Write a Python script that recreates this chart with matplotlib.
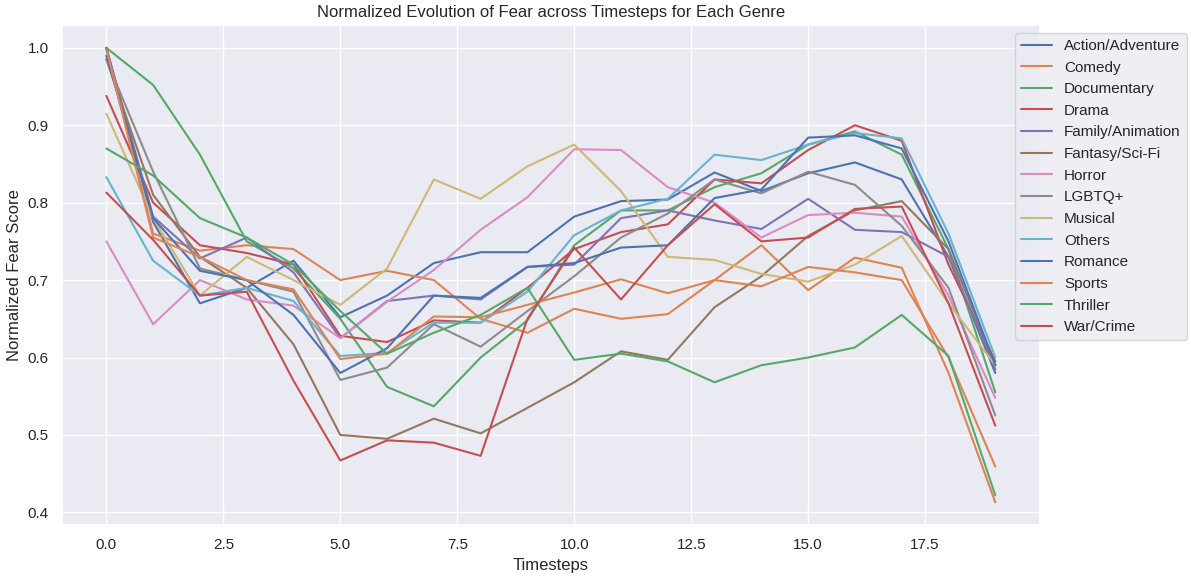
import matplotlib
matplotlib.use("Agg")
import matplotlib.pyplot as plt
import seaborn as sns

sns.set_theme()
plt.rcParams['font.family'] = ['Liberation Sans', 'DejaVu Sans']

timesteps = list(range(20))
genres = ["Action/Adventure", "Comedy", "Documentary", "Drama", "Family/Animation",
          "Fantasy/Sci-Fi", "Horror", "LGBTQ+", "Musical", "Others", "Romance",
          "Sports", "Thriller", "War/Crime"]

action = [1.0, 0.775, 0.67, 0.69, 0.725, 0.652, 0.68, 0.722, 0.736, 0.736, 0.782, 0.802, 0.804, 0.839, 0.815, 0.838, 0.852, 0.83, 0.73, 0.58]
comedy = [1.0, 0.76, 0.738, 0.745, 0.74, 0.70, 0.712, 0.70, 0.65, 0.632, 0.663, 0.65, 0.656, 0.70, 0.745, 0.687, 0.729, 0.716, 0.58, 0.413]
documentary = [1.0, 0.952, 0.862, 0.75, 0.715, 0.65, 0.562, 0.537, 0.60, 0.648, 0.745, 0.79, 0.79, 0.82, 0.838, 0.875, 0.892, 0.862, 0.74, 0.555]
drama = [0.938, 0.80, 0.745, 0.735, 0.72, 0.628, 0.62, 0.648, 0.645, 0.69, 0.74, 0.762, 0.772, 0.83, 0.825, 0.868, 0.90, 0.88, 0.72, 0.595]
family = [1.0, 0.782, 0.728, 0.755, 0.71, 0.625, 0.673, 0.68, 0.675, 0.717, 0.72, 0.78, 0.79, 0.777, 0.766, 0.805, 0.765, 0.762, 0.73, 0.585]
fantasy = [0.985, 0.81, 0.73, 0.69, 0.617, 0.50, 0.495, 0.521, 0.502, 0.535, 0.568, 0.608, 0.597, 0.665, 0.705, 0.757, 0.79, 0.802, 0.74, 0.59]
horror = [0.75, 0.643, 0.70, 0.675, 0.667, 0.625, 0.672, 0.713, 0.765, 0.807, 0.869, 0.868, 0.820, 0.80, 0.755, 0.784, 0.787, 0.782, 0.68, 0.548]
lgbtq = [0.985, 0.84, 0.715, 0.70, 0.685, 0.571, 0.587, 0.643, 0.614, 0.66, 0.705, 0.755, 0.786, 0.83, 0.812, 0.84, 0.823, 0.77, 0.69, 0.525]
musical = [0.915, 0.78, 0.68, 0.73, 0.70, 0.668, 0.715, 0.83, 0.805, 0.847, 0.875, 0.815, 0.73, 0.726, 0.708, 0.698, 0.72, 0.757, 0.67, 0.59]
others = [0.833, 0.725, 0.68, 0.69, 0.673, 0.602, 0.606, 0.645, 0.645, 0.685, 0.758, 0.79, 0.805, 0.862, 0.855, 0.875, 0.89, 0.883, 0.76, 0.60]
romance = [0.99, 0.78, 0.712, 0.70, 0.655, 0.58, 0.612, 0.68, 0.677, 0.717, 0.722, 0.742, 0.745, 0.806, 0.817, 0.884, 0.887, 0.87, 0.75, 0.59]
sports = [0.998, 0.755, 0.73, 0.70, 0.688, 0.598, 0.605, 0.653, 0.652, 0.668, 0.684, 0.701, 0.683, 0.70, 0.692, 0.717, 0.71, 0.70, 0.60, 0.459]
thriller = [0.87, 0.835, 0.78, 0.755, 0.72, 0.66, 0.605, 0.632, 0.655, 0.69, 0.597, 0.605, 0.595, 0.568, 0.59, 0.60, 0.613, 0.655, 0.602, 0.422]
war_crime = [0.813, 0.752, 0.68, 0.685, 0.57, 0.467, 0.493, 0.49, 0.473, 0.65, 0.742, 0.675, 0.745, 0.798, 0.75, 0.755, 0.792, 0.795, 0.67, 0.512]

series = [action, comedy, documentary, drama, family, fantasy, horror, lgbtq,
          musical, others, romance, sports, thriller, war_crime]

fig, ax = plt.subplots(figsize=(11.91, 5.84), dpi=100)
for name, vals in zip(genres, series):
    ax.plot(timesteps, vals, label=name)

ax.set_title("Normalized Evolution of Fear across Timesteps for Each Genre")
ax.set_xlabel("Timesteps")
ax.set_ylabel("Normalized Fear Score")
ax.legend(loc="upper left", bbox_to_anchor=(0.967, 1.0))
fig.subplots_adjust(left=0.052, right=0.873, top=0.957, bottom=0.101)
fig.savefig("out.png")
